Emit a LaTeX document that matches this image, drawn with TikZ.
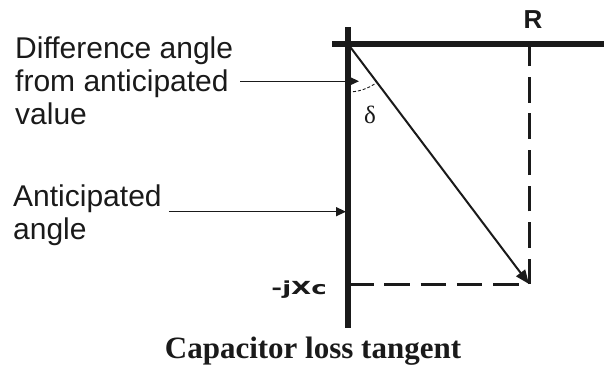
\documentclass[tikz,border=0pt]{standalone}
\usepackage{fontspec}
\setmainfont{Liberation Serif}
\newfontfamily\notefont{Liberation Sans}
\newfontfamily\axisfont[FakeStretch=1.45]{DejaVu Sans Bold}
\usetikzlibrary{arrows.meta,positioning,calc}
\definecolor{ink}{HTML}{1A1A1A}
\tikzset{
  axisln/.style={line width=6pt, draw=ink},
  dashln/.style={line width=3pt, draw=ink, dash pattern=on 25.5pt off 10.8pt},
  vec/.style={-{Triangle[length=14pt,width=11pt]}, line width=2pt, draw=ink},
  ptr/.style={-{Triangle[length=10pt,width=9pt]}, line width=1.3pt, draw=ink},
  arcln/.style={line width=0.9pt, draw=ink, dash pattern=on 3pt off 2pt},
  note/.style={font=\notefont\fontsize{30}{33}\selectfont, align=left, inner sep=0pt, text=ink},
  axlbl/.style={inner sep=0pt, text=ink},
}

\begin{document}
\begin{tikzpicture}[x=1pt, y=-1pt]
  \useasboundingbox (0,0) rectangle (604,368);
  \coordinate (O) at (348,44);
  \coordinate (top) at (348,27);
  \coordinate (bot) at (348,328);
  \coordinate (lft) at (332,44);
  \coordinate (rgt) at (604,44);
  \coordinate (P) at (529,284);
  \coordinate (Rp) at (O -| P);
  \coordinate (Xc) at (O |- P);
  \draw[dashln] (P) -- (Rp);
  \draw[dashln] (Xc) -- (P);
  \draw[axisln] (top) -- (bot);
  \draw[axisln, line width=5.5pt] (lft) -- (rgt);
  \draw[vec] (O) -- (P);
  \draw[arcln] ([yshift=-48pt]O) arc[start angle=-90, end angle=-53, radius=48pt];
  \node[axlbl, above=15pt of Rp, xshift=4pt] (R) {\notefont\bfseries\fontsize{26pt}{26pt}\selectfont R};
  \node[axlbl, left=21pt of Xc, yshift=-6pt] (jxc) {\axisfont\fontsize{18pt}{18pt}\selectfont -jXc};
  \node[text=ink] (delta) at (370,115) {\fontsize{25pt}{25pt}\selectfont δ};
  \node[note, anchor=north west] (diff) at (15,37) {Difference angle\\from anticipated\\value};
  \node[note, anchor=north west] (antic) at (13,185) {Anticipated\\angle};
  \draw[ptr] ($(diff.east)+(7,0)$) -- ($(diff.east -| O)+(11,0)$);
  \draw[ptr] ($(antic.east)+(7,-4)$) -- ($(antic.east -| O)+(-2,-4)$);
  \node[font=\bfseries\fontsize{31}{31}\selectfont, text=ink, anchor=base] (title) at (313,358) {Capacitor loss tangent};
\end{tikzpicture}
\end{document}
